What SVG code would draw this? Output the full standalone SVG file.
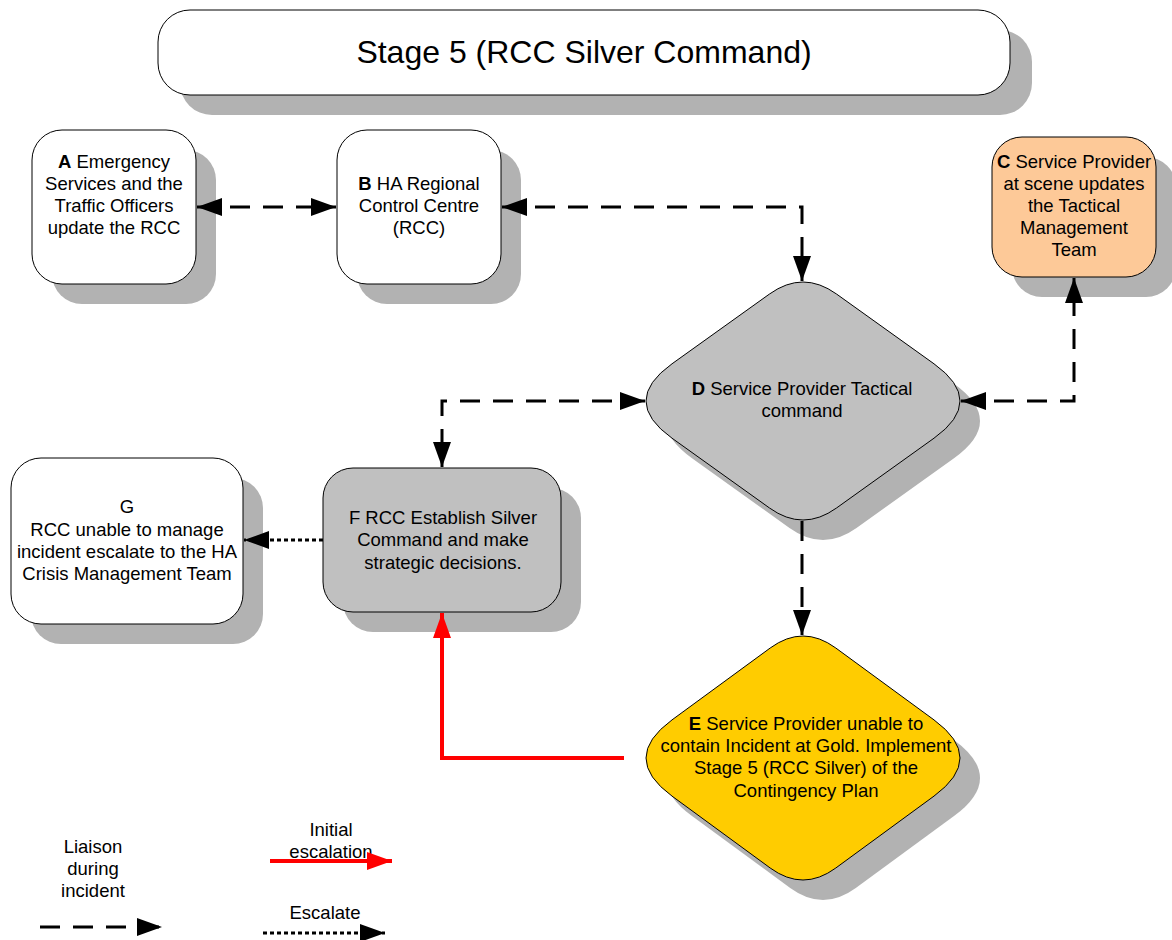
<svg xmlns="http://www.w3.org/2000/svg" width="1172" height="940" viewBox="0 0 1172 940">
  <style>
    .shadow { fill: #b2b2b2; stroke: none; }
    .box { stroke: #000; stroke-width: 1; }
    .white { fill: #ffffff; }
    .grey { fill: #c0c0c0; }
    .peach { fill: #fdc998; }
    .gold { fill: #ffcc00; }
    text { font-family: "Liberation Sans", Arial, sans-serif; font-size: 18.5px; fill: #000; text-anchor: middle; }
    .title { font-size: 32px; }
    .b { font-weight: bold; }
    .dash { fill: none; stroke: #000; stroke-width: 3; stroke-dasharray: 20 13; }
    .dot { fill: none; stroke: #000; stroke-width: 3; stroke-dasharray: 4 3; }
    .red { fill: none; stroke: #ff0000; stroke-width: 4; }
  </style>
  <defs>
    <marker id="arrow" markerUnits="userSpaceOnUse" markerWidth="26" markerHeight="18" viewBox="0 0 26 18" refX="25" refY="9" orient="auto-start-reverse">
      <path d="M0,0 L25,9 L0,18 Z" fill="#000"/>
    </marker>
    <marker id="arrowRed" markerUnits="userSpaceOnUse" markerWidth="26" markerHeight="18" viewBox="0 0 26 18" refX="25" refY="9" orient="auto">
      <path d="M0,0 L25,9 L0,18 Z" fill="#ff0000"/>
    </marker>
    <path id="diamondD" d="M836.5,294 L934,363.8 Q986,401 934,438.2 L836.5,508 Q803,532 769.5,508 L672,438.2 Q620,401 672,363.8 L769.5,294 Q803,270 836.5,294 Z"/>
    <path id="diamondE" d="M835.8,648 L934,719.9 Q986,758 934,796.1 L835.8,868 Q803,892 770.2,868 L672,796.1 Q620,758 672,719.9 L770.2,648 Q803,624 835.8,648 Z"/>
  </defs>

  <!-- Title banner -->
  <g id="title">
    <rect class="shadow" x="180" y="30" width="852" height="85" rx="32"/>
    <rect class="box white" x="158" y="10" width="852" height="85" rx="32"/>
    <text class="title" x="584" y="63">Stage 5 (RCC Silver Command)</text>
  </g>

  <!-- A -->
  <g id="nodeA">
    <rect class="shadow" x="52" y="150" width="164" height="154" rx="30"/>
    <rect class="box white" x="32" y="130" width="164" height="154" rx="30"/>
    <text x="114" y="168"><tspan class="b">A</tspan> Emergency</text>
    <text x="114" y="190">Services and the</text>
    <text x="114" y="212">Traffic Officers</text>
    <text x="114" y="234">update the RCC</text>
  </g>

  <!-- B -->
  <g id="nodeB">
    <rect class="shadow" x="357" y="150" width="164" height="154" rx="30"/>
    <rect class="box white" x="337" y="130" width="164" height="154" rx="30"/>
    <text x="419" y="190"><tspan class="b">B</tspan> HA Regional</text>
    <text x="419" y="212">Control Centre</text>
    <text x="419" y="234">(RCC)</text>
  </g>

  <!-- C -->
  <g id="nodeC">
    <rect class="shadow" x="1012" y="157" width="164" height="140" rx="30"/>
    <rect class="box peach" x="992" y="137" width="164" height="140" rx="30"/>
    <text x="1074" y="168"><tspan class="b">C</tspan> Service Provider</text>
    <text x="1074" y="190">at scene updates</text>
    <text x="1074" y="212">the Tactical</text>
    <text x="1074" y="234">Management</text>
    <text x="1074" y="256">Team</text>
  </g>

  <!-- D -->
  <g id="nodeD">
    <use href="#diamondD" class="shadow" transform="translate(20,20)"/>
    <use href="#diamondD" class="box grey"/>
    <text x="802" y="395"><tspan class="b">D</tspan> Service Provider Tactical</text>
    <text x="802" y="417">command</text>
  </g>

  <!-- E -->
  <g id="nodeE">
    <use href="#diamondE" class="shadow" transform="translate(20,20)"/>
    <use href="#diamondE" class="box gold"/>
    <text x="806" y="730"><tspan class="b">E</tspan> Service Provider unable to</text>
    <text x="806" y="752">contain Incident at Gold. Implement</text>
    <text x="806" y="774">Stage 5 (RCC Silver) of the</text>
    <text x="806" y="797">Contingency Plan</text>
  </g>

  <!-- F -->
  <g id="nodeF">
    <rect class="shadow" x="343" y="488" width="238" height="144" rx="30"/>
    <rect class="box grey" x="323" y="468" width="238" height="144" rx="30"/>
    <text x="443" y="524">F  RCC Establish Silver</text>
    <text x="443" y="546">Command and make</text>
    <text x="443" y="569">strategic decisions.</text>
  </g>

  <!-- G -->
  <g id="nodeG">
    <rect class="shadow" x="31" y="478" width="232" height="166" rx="30"/>
    <rect class="box white" x="11" y="458" width="232" height="166" rx="30"/>
    <text x="127" y="513">G</text>
    <text x="127" y="536">RCC unable to manage</text>
    <text x="127" y="558">incident escalate to the HA</text>
    <text x="127" y="580">Crisis Management Team</text>
  </g>

  <!-- Connectors, drawn over the node shadows -->
  <g id="connectors">
    <path class="dash" d="M197,207 H336" marker-start="url(#arrow)" marker-end="url(#arrow)"/>
    <path class="dash" d="M502,207 H802 V281" marker-start="url(#arrow)" marker-end="url(#arrow)"/>
    <path class="dash" d="M961,401 H1074 V278" marker-start="url(#arrow)" marker-end="url(#arrow)"/>
    <path class="dash" d="M645,401 H442 V467" marker-start="url(#arrow)" marker-end="url(#arrow)"/>
    <path class="dash" d="M802,521 V635" marker-end="url(#arrow)"/>
    <path class="dot" d="M323,540 H244" marker-end="url(#arrow)"/>
    <path class="red" d="M624,758 H442 V613" marker-end="url(#arrowRed)"/>
  </g>

  <!-- Legend -->
  <g id="legend">
    <text x="93" y="853">Liaison</text>
    <text x="93" y="875">during</text>
    <text x="93" y="897">incident</text>
    <path class="dash" d="M40,927 H162" marker-end="url(#arrow)"/>
    <text x="331" y="836">Initial</text>
    <text x="331" y="858">escalation</text>
    <path class="red" d="M270,861 H392" marker-end="url(#arrowRed)"/>
    <text x="325" y="919">Escalate</text>
    <path class="dot" d="M263,933 H385" marker-end="url(#arrow)"/>
  </g>
</svg>
